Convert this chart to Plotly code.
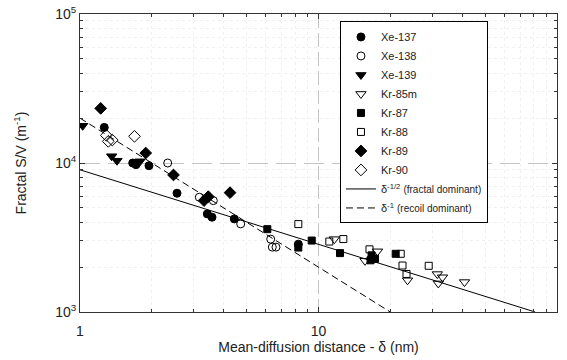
import plotly.graph_objects as go

# ---- data ----
xe137_x = [1.264, 1.663, 1.717, 1.946, 2.551, 3.418, 3.577, 4.436, 8.23]
xe137_y = [17340, 10000, 9750, 9590, 6270, 4553, 4328, 4216, 2853]

xe138_x = [2.332, 3.164, 3.622, 4.719, 6.304, 6.402, 6.633]
xe138_y = [10000, 5893, 5592, 3903, 3083, 2725, 2725]

xe139_x = [1.026, 1.358, 1.429, 1.785]
xe139_y = [17780, 11105, 10360, 10265]

kr85m_x = [11.65, 17.68, 15.67, 23.62, 31.49, 33.11, 31.79, 40.95]
kr85m_y = [3083, 2554, 2206, 1633, 1797, 1711, 1555, 1588]

kr87_x = [6.101, 8.23, 9.366, 12.31, 16.69, 17.26, 16.52, 21.07]
kr87_y = [3597, 2708, 3017, 2485, 2401, 2275, 2223, 2458]

kr88_x = [8.23, 11.10, 12.71, 16.36, 22.12, 22.50, 23.39, 28.98]
kr88_y = [3891, 2971, 3087, 2634, 2458, 2051, 1800, 2042]

kr89_x = [1.221, 1.886, 2.466, 3.311, 3.451, 4.256]
kr89_y = [23250, 11670, 8312, 5592, 5947, 6326]

kr90_x = [1.289, 1.314, 1.366, 1.692]
kr90_y = [15330, 13970, 14260, 15100]

fractal_x = [1, 81]
fractal_y = [9000, 1000]
recoil_x = [1, 20]
recoil_y = [20000, 1000]

x_ticks = [1, 10, 100]
x_ticktext = ["1", "10", "100"]
y_ticks = [1e3, 1e4, 1e5]
y_ticktext = ["10<sup>3</sup>", "10<sup>4</sup>", "10<sup>5</sup>"]

series = [
    ("Xe-137", xe137_x, xe137_y, "circle", 8),
    ("Xe-138", xe138_x, xe138_y, "circle-open", 8),
    ("Xe-139", xe139_x, xe139_y, "triangle-down", 9),
    ("Kr-85m", kr85m_x, kr85m_y, "triangle-down-open", 9),
    ("Kr-87", kr87_x, kr87_y, "square", 7),
    ("Kr-88", kr88_x, kr88_y, "square-open", 7),
    ("Kr-89", kr89_x, kr89_y, "diamond", 9),
    ("Kr-90", kr90_x, kr90_y, "diamond-open", 9),
]

fig = go.Figure()
for name, xs, ys, sym, size in series:
    fig.add_trace(go.Scatter(
        x=xs, y=ys, mode="markers", name=name,
        marker=dict(symbol=sym, size=size, color="black",
                    line=dict(color="black", width=1)),
    ))

fig.add_trace(go.Scatter(
    x=fractal_x, y=fractal_y, mode="lines",
    name="δ<sup>-1/2</sup> <span style='font-size:10px'>(fractal dominant)</span>",
    line=dict(color="black", width=1),
))
fig.add_trace(go.Scatter(
    x=recoil_x, y=recoil_y, mode="lines",
    name="δ<sup>-1</sup> <span style='font-size:10px'>(recoil dominant)</span>",
    line=dict(color="black", width=1, dash="7px,4px"),
))

minor_vals = [m * 10 ** e for e in range(0, 5) for m in range(2, 10)]

axis_common = dict(
    type="log", automargin=False,
    showline=True, linecolor="#333", linewidth=1, mirror="allticks",
    ticks="inside", ticklen=5, tickcolor="#333",
    showgrid=True, gridcolor="#c4c4c4", gridwidth=1.2,
    zeroline=False,
    tickfont=dict(size=14, color="#222"),
    minor=dict(tickvals=minor_vals, ticks="inside", ticklen=3, tickcolor="#333",
               showgrid=True, gridcolor="#f0f0f0", griddash="dot", gridwidth=1),
)

fig.update_xaxes(**axis_common, range=[0, 2], tickvals=x_ticks,
                 ticktext=x_ticktext, griddash="14px,5px", ticklabelstandoff=6,
                 title=dict(text="Mean-diffusion distance - δ (nm)",
                            font=dict(size=14, color="#222"), standoff=1))
fig.update_yaxes(**axis_common, range=[3, 5], tickvals=y_ticks,
                 ticktext=y_ticktext, griddash="20px,8px",
                 title=dict(text="Fractal S/V (m<sup>-1</sup>)",
                            font=dict(size=14, color="#222"), standoff=25))

fig.update_layout(
    width=567, height=360,
    margin=dict(l=80, r=10, t=14, b=48),
    paper_bgcolor="white", plot_bgcolor="white",
    font=dict(family="Liberation Sans, Arial, sans-serif", color="#222"),
    showlegend=True,
    legend=dict(x=0.545, y=0.975, xanchor="left", yanchor="top",
                bgcolor="white", bordercolor="black", borderwidth=1,
                font=dict(size=11, color="#222"), itemwidth=30,
                tracegroupgap=0),
)

fig.write_html("out.html")
